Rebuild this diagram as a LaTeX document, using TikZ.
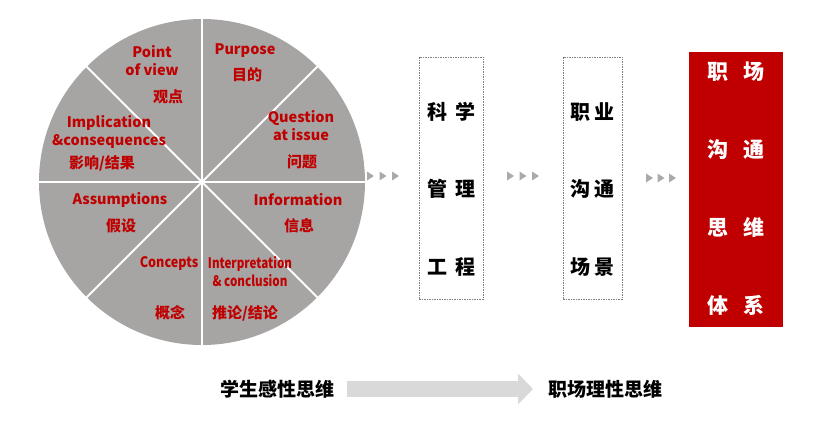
\documentclass[tikz,border=0pt]{standalone}
\usepackage{fontspec}
\setmainfont{Noto Sans CJK SC}[BoldFont={Noto Sans CJK SC Black}]
\usetikzlibrary{arrows.meta}
\definecolor{piecol}{RGB}{167,164,164}
\definecolor{dred}{RGB}{192,0,0}
\definecolor{tricol}{RGB}{170,170,170}
\definecolor{barcol}{RGB}{217,217,217}
\begin{document}
\begin{tikzpicture}[x=1pt,y=-1pt,
  en/.style={text=dred,font=\fontsize{14.5}{18}\selectfont\bfseries,align=center,inner sep=0pt},
  encond/.style={en,xscale=#1,transform shape},
  zh/.style={text=dred,font=\fontsize{15}{17}\selectfont\bfseries,inner sep=0pt},
  divider/.style={draw=white,line width=2pt},
  dashbox/.style={draw=gray,line width=0.7pt,dash pattern=on 1.5pt off 1pt,minimum width=#1,minimum height=242pt,inner sep=0pt},
  boxtxt/.style={font=\fontsize{20}{22}\selectfont\bfseries,inner sep=0pt},
  redtxt/.style={text=white,font=\fontsize{21}{23}\selectfont\bfseries,inner sep=0pt},
  bottxt/.style={font=\fontsize{19}{21}\selectfont\bfseries,inner sep=0pt},
  tri/.style={fill=tricol}
]
\useasboundingbox (0,0) rectangle (818,420);
% pie
\node[circle,fill=piecol,minimum size=326pt,inner sep=0pt] (pie) at (202,182) {};
\draw[divider] (pie.north) -- (pie.south);
\draw[divider] (pie.east) -- (pie.west);
\draw[divider] (pie.45) -- (pie.225);
\draw[divider] (pie.135) -- (pie.315);
% labels
\node[en] (povE) at (152,61) {Point\\of view};
\node[zh] (povZ) at (168,97) {观点};
\node[en] (purE) at (245,51) {Purpose};
\node[zh] (purZ) at (247,75) {目的};
\node[en] (queE) at (301,126) {Question\\at issue};
\node[zh] (queZ) at (302,162) {问题};
\node[en] (impE) at (109,132) {Implication\\\&consequences};
\node[zh] (impZ) at (102,163) {影响/结果};
\node[en] (assE) at (120,200) {Assumptions};
\node[zh] (assZ) at (121,226) {假设};
\node[en] (infE) at (298,200) {Information};
\node[zh] (infZ) at (299,226) {信息};
\node[encond=0.87] (conE) at (169,264) {Concepts};
\node[zh] (conZ) at (170,313) {概念};
\node[encond=0.8] (intE) at (250,272) {Interpretation\\\& conclusion};
\node[zh] (intZ) at (245,313) {推论/结论};
% triangles
\foreach \x in {367,379.5,392} \fill[tri] (\x,171.5) -- (\x+7,176) -- (\x,180.5) -- cycle;
\foreach \x in {507,519.5,532} \fill[tri] (\x,171.5) -- (\x+7,176) -- (\x,180.5) -- cycle;
\foreach \x in {646,657.5,669} \fill[tri] (\x,173.5) -- (\x+7,178) -- (\x,182.5) -- cycle;
% box 1
\node[dashbox=64pt] (box1) at (451,178) {};
\node[boxtxt] (b1a) at (451,112) {科\hspace{8pt}学};
\node[boxtxt] (b1b) at (451,189) {管\hspace{8pt}理};
\node[boxtxt] (b1c) at (451,267) {工\hspace{8pt}程};
% box 2
\node[dashbox=59pt] (box2) at (592.5,178) {};
\node[boxtxt] (b2a) at (592.5,112) {职\hspace{4pt}业};
\node[boxtxt] (b2b) at (592.5,189) {沟\hspace{4pt}通};
\node[boxtxt] (b2c) at (592.5,267) {场\hspace{4pt}景};
% red box
\node[fill=dred,minimum width=94pt,minimum height=275pt,inner sep=0pt] (rbox) at (736,189.5) {};
\node[redtxt] (r1) at (736,72) {职\hspace{15pt}场};
\node[redtxt] (r2) at (736,150) {沟\hspace{15pt}通};
\node[redtxt] (r3) at (736,227) {思\hspace{15pt}维};
\node[redtxt] (r4) at (736,305) {体\hspace{15pt}系};
% bottom
\node[bottxt,anchor=west] (stu) at (220,389) {学生感性思维};
\node[bottxt,anchor=west] (work) at (548,389) {职场理性思维};
\draw[barcol,line width=16pt,shorten <=13pt,shorten >=15pt,-{Triangle[width=30pt,length=15pt]}] (stu.east) -- (work.west);
\end{tikzpicture}
\end{document}
